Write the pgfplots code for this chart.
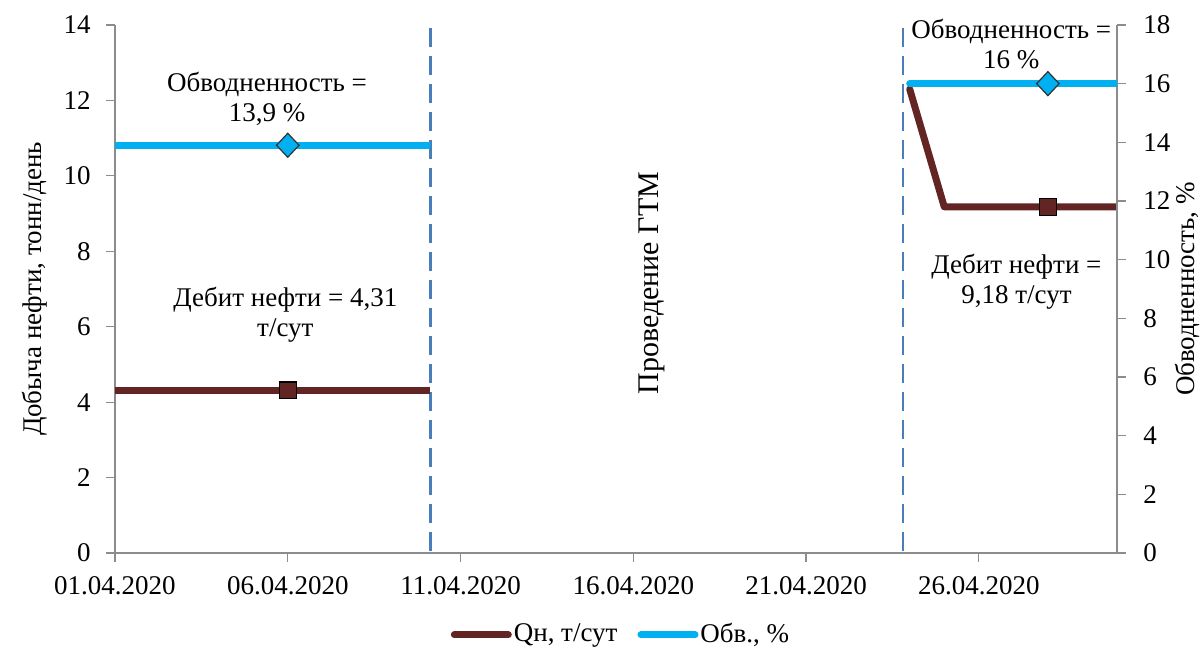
\documentclass[border=0pt]{standalone}
\usepackage{pgfplots}
\pgfplotsset{compat=1.18}
\usepackage{fontspec}
\setmainfont{Liberation Serif}

\definecolor{qn}{HTML}{632523}
\definecolor{obv}{HTML}{00B0F0}
\definecolor{gtm}{HTML}{4A7EBB}
\definecolor{axgray}{HTML}{8C8C8C}

\begin{document}
\fontsize{13.5}{15}\selectfont
\begin{tikzpicture}
\path[use as bounding box] (-57.5pt,-49pt) rectangle (544.5pt,276.5pt);
\pgfplotsset{
  every axis/.append style={
    width=501pt, height=264pt, scale only axis,
    xmin=0, xmax=29,
    clip mode=individual,
    /pgf/number format/assume math mode=true,
    tick label style={font=\fontsize{13.5}{15}\selectfont},
    label style={font=\fontsize{13.5}{15}\selectfont},
    axis line style={axgray, line width=0.6pt, -},
    tick style={axgray, line width=0.6pt},
    major tick length=4.5pt,
    tick align=outside,
  }
}
% Oil rate, left axis
\begin{axis}[
  at={(0,0)}, anchor=south west,
  axis x line*=bottom, axis y line*=left,
  ymin=0, ymax=14, ytick={0,2,...,14},
  yticklabel style={xshift=-3pt},
  xtick={0,5,10,15,20,25},
  xticklabels={01.04.2020,06.04.2020,11.04.2020,16.04.2020,21.04.2020,26.04.2020},
  xticklabel style={yshift=-2.5pt},
  ylabel={Добыча нефти, тонн/день},
  ylabel style={at={(axis description cs:-0.080,0.5)}, anchor=center},
]
% boundaries of the workover period
\addplot[gtm, line width=1.2pt, dash pattern=on 9.5pt off 4.5pt] coordinates {(9.13,0.05) (9.13,14)};
\addplot[gtm, line width=1.2pt, dash pattern=on 9.5pt off 4.5pt] coordinates {(22.8,0.05) (22.8,14)};
% oil rate before and after
\addplot[qn, line width=3.5pt, line cap=butt] coordinates {(0,4.31) (9.13,4.31)};
\addplot[qn, line width=3.5pt, line cap=round, line join=round] coordinates {(23,12.3) (24,9.18) (29,9.18)};
\addplot[only marks, mark=square*, mark size=4.2pt, mark options={fill=qn, draw=black, line width=0.6pt}] coordinates {(5,4.31) (27,9.18)};

\node[align=center] at (axis cs:4.4,12.04) {Обводненность =\\13,9 \%};
\node[align=center] at (axis cs:4.93,6.31) {Дебит нефти = 4,31\\т/сут};
\node[align=center] at (axis cs:25.94,13.5) {Обводненность =\\16 \%};
\node[align=center] at (axis cs:26.09,7.2) {Дебит нефти =\\9,18 т/сут};
\node[rotate=90, font=\fontsize{15}{18}\selectfont] at (axis cs:15.55,7.15) {Проведение ГТМ};
\end{axis}

% Water cut, right axis
\begin{axis}[
  at={(0,0)}, anchor=south west,
  axis x line=none, axis y line*=right,
  ymin=0, ymax=18, ytick={0,2,...,18},
  yticklabel style={xshift=4pt},
  ylabel={Обводненность, \%},
  ylabel style={at={(axis description cs:1.070,0.5)}, anchor=center},
  legend columns=2,
  legend style={at={(axis description cs:0.505,-0.155)}, anchor=center, draw=none,
    font=\fontsize{13.5}{15}\selectfont, column sep=0pt,
    nodes={inner xsep=1pt},
    /tikz/every even column/.append style={column sep=9pt}},
  legend image code/.code={\draw[#1, line width=3.5pt, line cap=round] (0pt,0pt) -- (27pt,0pt);},
]
\addlegendimage{qn}
\addlegendentry{Qн, т/сут}
\addplot[obv, line width=3.5pt, line cap=butt] coordinates {(0,13.9) (9.13,13.9)};
\addlegendentry{Обв., \%}
\addplot[obv, line width=3.5pt, line cap=round, forget plot] coordinates {(23,16) (29,16)};
\addplot[only marks, mark=diamond*, mark size=6pt, mark options={fill=obv, draw=black!80, line width=0.6pt, xscale=1.25}, forget plot] coordinates {(5,13.9) (27,16)};
\end{axis}
\end{tikzpicture}
\end{document}
